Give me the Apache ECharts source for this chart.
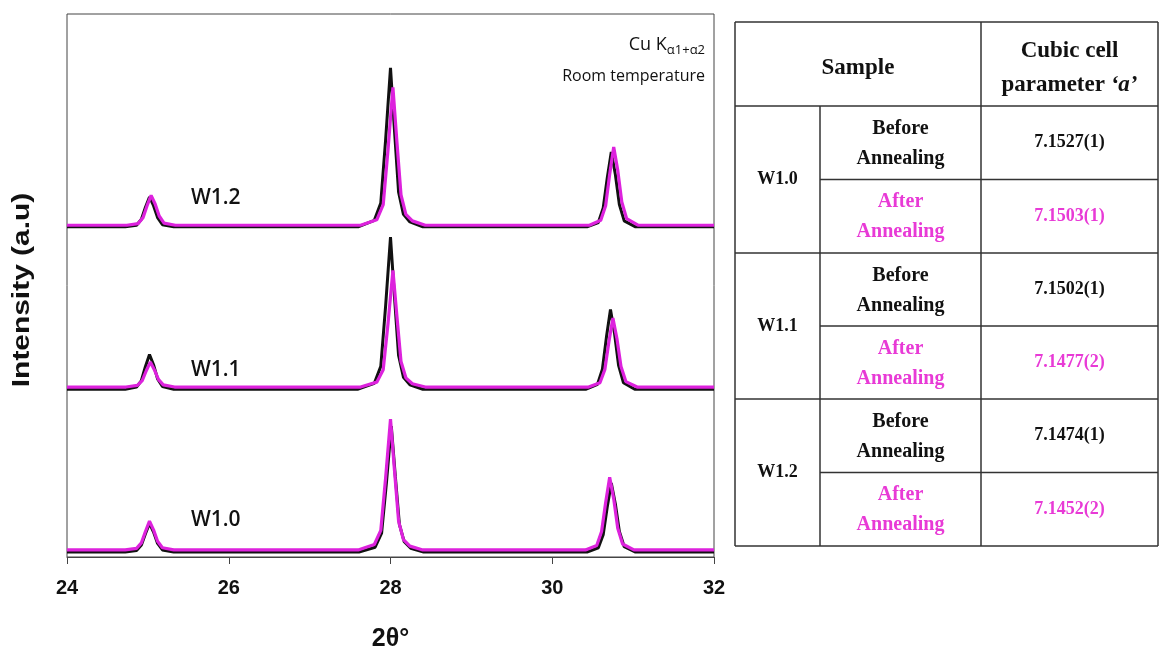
<!DOCTYPE html>
<html>
<head>
<meta charset="utf-8">
<title>XRD patterns and cubic cell parameter</title>
<script src="https://cdn.jsdelivr.net/npm/echarts@6/dist/echarts.min.js"></script>
<style>
  html, body { margin: 0; padding: 0; background: #ffffff; }
  #chart { width: 1159px; height: 655px; }
</style>
</head>
<body>
<div id="chart"></div>
<script>
// ---- XRD profiles: [2theta, intensity above the pattern's own baseline] ----
const samples = ['W1.0', 'W1.1', 'W1.2'];

// vertical stacking level of each pattern (a.u.)
const baseBefore = [0.9, 30.9, 60.8];
const baseAfter  = [1.3, 31.3, 61.1];

const w10Before = [
  [24.0, 0], [24.72, 0], [24.86, 0.3], [24.92, 1.3], [24.97, 3.4], [25.02, 5.3], [25.07, 3.7], [25.12, 1.6], [25.18, 0.4], [25.32, 0],
  [27.61, 0], [27.81, 0.9], [27.89, 3.5], [27.95, 12.8], [28.01, 23.2], [28.06, 13.9], [28.11, 5.1], [28.17, 1.9], [28.25, 0.7], [28.41, 0],
  [30.43, 0], [30.57, 0.8], [30.63, 3.2], [30.68, 8.3], [30.73, 12.7], [30.78, 8.9], [30.83, 3.8], [30.89, 1.0], [31.03, 0], [32.0, 0]
];
const w10After = [
  [24.0, 0], [24.72, 0], [24.86, 0.3], [24.92, 1.3], [24.97, 3.4], [25.02, 5.3], [25.07, 3.7], [25.12, 1.6], [25.18, 0.4], [25.32, 0],
  [27.60, 0], [27.80, 1.0], [27.88, 3.6], [27.94, 13.3], [28.00, 24.1], [28.05, 14.5], [28.10, 5.3], [28.16, 1.9], [28.24, 0.7], [28.40, 0],
  [30.41, 0], [30.55, 0.8], [30.61, 3.4], [30.66, 8.7], [30.71, 13.4], [30.76, 9.4], [30.81, 4.0], [30.87, 1.1], [31.01, 0], [32.0, 0]
];
const w11Before = [
  [24.0, 0], [24.72, 0], [24.86, 0.4], [24.92, 1.6], [24.97, 4.2], [25.02, 6.4], [25.07, 4.5], [25.12, 1.9], [25.18, 0.5], [25.32, 0],
  [27.60, 0], [27.80, 1.1], [27.88, 4.2], [27.94, 15.4], [28.00, 28.0], [28.05, 16.8], [28.10, 6.2], [28.16, 2.2], [28.24, 0.8], [28.40, 0],
  [30.42, 0], [30.56, 0.9], [30.62, 3.7], [30.67, 9.6], [30.72, 14.7], [30.77, 10.3], [30.82, 4.4], [30.88, 1.2], [31.02, 0], [32.0, 0]
];
const w11After = [
  [24.0, 0], [24.73, 0], [24.87, 0.3], [24.93, 1.2], [24.98, 3.0], [25.03, 4.6], [25.08, 3.2], [25.13, 1.4], [25.19, 0.4], [25.33, 0],
  [27.63, 0], [27.83, 0.9], [27.91, 3.2], [27.97, 11.8], [28.03, 21.5], [28.08, 12.9], [28.13, 4.7], [28.19, 1.7], [28.27, 0.6], [28.43, 0],
  [30.45, 0], [30.59, 0.8], [30.65, 3.2], [30.70, 8.3], [30.75, 12.7], [30.80, 8.9], [30.85, 3.8], [30.91, 1.0], [31.05, 0], [32.0, 0]
];
const w12Before = [
  [24.0, 0], [24.72, 0], [24.86, 0.3], [24.92, 1.4], [24.97, 3.6], [25.02, 5.5], [25.07, 3.9], [25.12, 1.7], [25.18, 0.4], [25.32, 0],
  [27.60, 0], [27.80, 1.2], [27.88, 4.4], [27.94, 16.1], [28.00, 29.3], [28.05, 17.6], [28.10, 6.4], [28.16, 2.3], [28.24, 0.9], [28.40, 0],
  [30.43, 0], [30.57, 0.8], [30.63, 3.5], [30.68, 9.0], [30.73, 13.8], [30.78, 9.7], [30.83, 4.1], [30.89, 1.1], [31.03, 0], [32.0, 0]
];
const w12After = [
  [24.0, 0], [24.74, 0], [24.88, 0.3], [24.94, 1.4], [24.99, 3.6], [25.04, 5.5], [25.09, 3.9], [25.14, 1.7], [25.20, 0.4], [25.34, 0],
  [27.63, 0], [27.83, 1.0], [27.91, 3.8], [27.97, 14.0], [28.03, 25.4], [28.08, 15.2], [28.13, 5.6], [28.19, 2.0], [28.27, 0.8], [28.43, 0],
  [30.46, 0], [30.60, 0.9], [30.66, 3.6], [30.71, 9.4], [30.76, 14.4], [30.81, 10.1], [30.86, 4.3], [30.92, 1.2], [31.06, 0], [32.0, 0]
];

const xTicks = [24, 26, 28, 30, 32];

// ---- cubic cell parameter table ----
const tableSamples = ['W1.0', 'W1.1', 'W1.2'];
const paramBefore = ['7.1527(1)', '7.1502(1)', '7.1474(1)'];
const paramAfter  = ['7.1503(1)', '7.1477(2)', '7.1452(2)'];

const BLACK = '#111111';
const PINK = '#dd22dd';
const PINK_TEXT = '#e83ad6';

const beforeProfiles = [w10Before, w11Before, w12Before];
const afterProfiles = [w10After, w11After, w12After];

function lift(profile, base) {
  return profile.map(function (p) { return [p[0], p[1] + base]; });
}

const series = [];
samples.forEach(function (name, i) {
  series.push({
    name: name + ' before', type: 'line', showSymbol: false, symbol: 'none',
    data: lift(beforeProfiles[i], baseBefore[i]),
    lineStyle: { color: BLACK, width: 3 }, itemStyle: { color: BLACK }
  });
  series.push({
    name: name + ' after', type: 'line', showSymbol: false, symbol: 'none',
    data: lift(afterProfiles[i], baseAfter[i]),
    lineStyle: { color: PINK, width: 3.2 }, itemStyle: { color: PINK }
  });
});

// ---- table drawing ----
const TX = [735, 820, 981, 1158];
const TY = [22, 106, 179.5, 253, 326, 399, 472.5, 546];
const tableLine = { stroke: '#333333', lineWidth: 1.5 };
const SERIF = '"Liberation Serif", "Times New Roman", serif';
const cellFont = 'bold 20px ' + SERIF;
const valueFont = 'bold 18px ' + SERIF;
const headFont = 'bold 23px ' + SERIF;

const graphics = [];
function hline(x1, x2, y) {
  graphics.push({ type: 'line', shape: { x1: x1, y1: y, x2: x2, y2: y }, style: tableLine, silent: true });
}
function vline(x, y1, y2) {
  graphics.push({ type: 'line', shape: { x1: x, y1: y1, x2: x, y2: y2 }, style: tableLine, silent: true });
}
function text(x, y, str, font, color, align, lh) {
  graphics.push({
    type: 'text', x: x, y: y, silent: true,
    style: { text: str, font: font, fill: color || BLACK, align: align || 'center', verticalAlign: 'middle', lineHeight: lh || 30 }
  });
}

// outer box and main separators
hline(TX[0], TX[3], TY[0]);
hline(TX[0], TX[3], TY[1]);
hline(TX[0], TX[3], TY[3]);
hline(TX[0], TX[3], TY[5]);
hline(TX[0], TX[3], TY[7]);
hline(TX[1], TX[3], TY[2]);
hline(TX[1], TX[3], TY[4]);
hline(TX[1], TX[3], TY[6]);
vline(TX[0], TY[0], TY[7]);
vline(TX[1], TY[1], TY[7]);
vline(TX[2], TY[0], TY[7]);
vline(TX[3], TY[0], TY[7]);

// header
text((TX[0] + TX[2]) / 2, (TY[0] + TY[1]) / 2 + 4, 'Sample', headFont);
graphics.push({
  type: 'text', x: (TX[2] + TX[3]) / 2, y: (TY[0] + TY[1]) / 2 + 4, silent: true,
  style: {
    text: '{b|Cubic cell}\n{b|parameter }{i|\u2018a\u2019}',
    align: 'center', verticalAlign: 'middle', fill: BLACK,
    rich: {
      b: { font: headFont, fill: BLACK, lineHeight: 34 },
      i: { font: 'italic bold 23px ' + SERIF, fill: BLACK, lineHeight: 34 }
    }
  }
});

// body rows
tableSamples.forEach(function (s, i) {
  const yTop = TY[1 + 2 * i], yMid = TY[2 + 2 * i], yBot = TY[3 + 2 * i];
  text((TX[0] + TX[1]) / 2, (yTop + yBot) / 2, s, valueFont);
  text((TX[1] + TX[2]) / 2, (yTop + yMid) / 2 + 1, 'Before\nAnnealing', cellFont, BLACK);
  text((TX[1] + TX[2]) / 2, (yMid + yBot) / 2 + 1, 'After\nAnnealing', cellFont, PINK_TEXT);
  text((TX[2] + TX[3]) / 2, (yTop + yMid) / 2, paramBefore[i], valueFont, BLACK);
  text((TX[2] + TX[3]) / 2, (yMid + yBot) / 2, paramAfter[i], valueFont, PINK_TEXT);
});

// ---- plot annotations ----
graphics.push({
  type: 'text', x: 705, y: 45, silent: true,
  style: {
    text: '{m|Cu K}{s|\u03b11+\u03b12}', align: 'right', verticalAlign: 'middle',
    rich: {
      m: { font: '18px "Open Sans", "Liberation Sans", sans-serif', fill: BLACK },
      s: { font: '13px "Open Sans", "Liberation Sans", sans-serif', fill: BLACK, padding: [11, 0, 0, 0] }
    }
  }
});
text(705, 76, 'Room temperature', '16px "Open Sans", "Liberation Sans", sans-serif', BLACK, 'right');

const sampleLabelPos = [[191, 520], [191, 370], [191, 198]];
samples.forEach(function (s, i) {
  text(sampleLabelPos[i][0], sampleLabelPos[i][1], s, '600 21px "Open Sans", "Liberation Sans", sans-serif', BLACK, 'left');
});

// y-axis title, drawn rotated and slightly elongated
graphics.push({
  type: 'text', x: 23, y: 290, rotation: Math.PI / 2, scaleX: 1.3, silent: true,
  style: {
    text: 'Intensity (a.u)', font: 'bold 23px "Liberation Sans", Arial, sans-serif',
    fill: BLACK, align: 'center', verticalAlign: 'middle'
  }
});

const chart = echarts.init(document.getElementById('chart'), null, { renderer: 'canvas' });
chart.setOption({
  animation: false,
  backgroundColor: '#ffffff',
  grid: {
    left: 67, right: 445, top: 14, bottom: 98,
    containLabel: false, outerBoundsMode: 'none',
    show: true, borderColor: '#444444', borderWidth: 1, backgroundColor: 'transparent'
  },
  xAxis: {
    type: 'value', min: xTicks[0], max: xTicks[xTicks.length - 1], interval: 2,
    name: '2\u03b8\u00b0', nameLocation: 'middle', nameGap: 70,
    nameTextStyle: { fontFamily: '"Liberation Sans Narrow", "Liberation Sans", Arial, sans-serif', fontWeight: 'bold', fontSize: 25, color: BLACK },
    axisLine: { show: true, lineStyle: { color: '#444444', width: 1 } },
    axisTick: { show: true, inside: false, length: 7, lineStyle: { color: '#444444' } },
    axisLabel: {
      margin: 21, fontFamily: '"Liberation Sans Narrow", "Liberation Sans", Arial, sans-serif', fontWeight: 'bold', fontSize: 20, color: BLACK,
      formatter: function (v) { return String(v); }
    },
    splitLine: { show: false }
  },
  yAxis: {
    type: 'value', min: 0, max: 100,
    axisLine: { show: false }, axisTick: { show: false }, axisLabel: { show: false }, splitLine: { show: false }
  },
  series: series,
  graphic: graphics
});
</script>
</body>
</html>
